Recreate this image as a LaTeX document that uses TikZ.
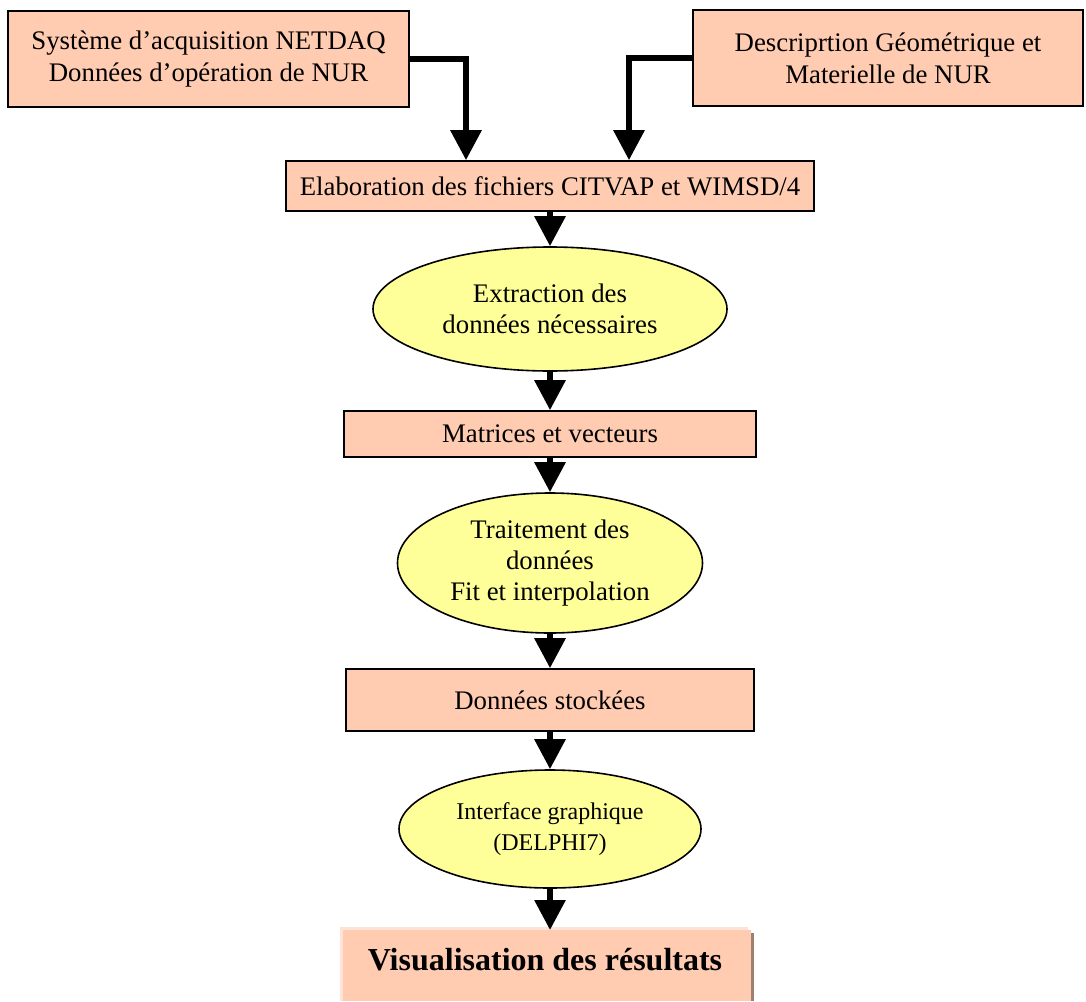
\documentclass[tikz,border=0pt]{standalone}
\usepackage{fontspec}
\setmainfont{Liberation Serif}
\usetikzlibrary{arrows.meta,shapes.geometric,backgrounds}
\definecolor{peach}{RGB}{255,204,178}
\definecolor{paleyellow}{RGB}{255,255,153}
\definecolor{peachedge}{RGB}{253,226,214}
\definecolor{shadowbrown}{RGB}{158,128,112}
\begin{document}
\begin{tikzpicture}[x=1pt,y=-1pt,
  box/.style={draw=black, line width=1.6pt, fill=peach, rectangle, inner sep=0pt,
              align=center, font=\fontsize{26.8}{32}\selectfont},
  oval/.style={draw=black, line width=1.6pt, fill=paleyellow, ellipse, inner sep=0pt,
               align=center, font=\fontsize{26.8}{31}\selectfont},
  flow/.style={line width=6pt, -{Triangle[width=30pt,length=30pt]}},
]
\useasboundingbox (0,0) rectangle (1086,1001);

% input sources
\node[box, minimum width=401pt, minimum height=96pt] (acq) at (208.5,59)
  {Système d’acquisition NETDAQ\\Données d’opération de NUR};
\node[box, minimum width=390pt, minimum height=96pt] (geo) at (888,58)
  {Descriprtion Géométrique et\\Materielle de NUR};

% processing chain
\node[box, minimum width=528pt, minimum height=50pt] (elab) at (550,186)
  {Elaboration des fichiers CITVAP et WIMSD/4};
\node[oval, minimum width=354pt, minimum height=124pt] (extr) at (550,309)
  {Extraction des\\données nécessaires};
\node[box, minimum width=412pt, minimum height=46pt] (mat) at (550,434)
  {Matrices et vecteurs};
\node[oval, minimum width=305pt, minimum height=140pt] (trait) at (550,563)
  {Traitement des\\données\\Fit et interpolation};
\node[box, minimum width=408pt, minimum height=62pt] (stock) at (550,700)
  {Données stockées};
\node[oval, minimum width=302pt, minimum height=118pt,
      font=\fontsize{24}{31}\selectfont] (gui) at (550,829)
  {Interface graphique\\(DELPHI7)};

% result box with soft edge and shadow
\node[fill=peach, inner sep=0pt, minimum width=408pt, minimum height=71pt,
      anchor=north west] (vis) at (343,930) {};
\node[anchor=base, font=\fontsize{32}{40}\selectfont\bfseries] (vislbl) at (545,970)
  {Visualisation des résultats};
\begin{scope}[on background layer]
  \fill[shadowbrown] ([shift={(0,3)}]vis.north east) rectangle ([shift={(3,0)}]vis.south east);
  \fill[peachedge] ([shift={(-3,-3)}]vis.north west) rectangle ([shift={(-3,0)}]vis.south east);
\end{scope}

% connectors
\draw[flow] (acq.east) -| ([xshift=-84pt]elab.north);
\draw[flow] (geo.west) -| ([xshift=79pt]elab.north);
\draw[flow] (elab.south) -- (elab.south |- extr.north);
\draw[flow] (extr.south) -- (extr.south |- mat.north);
\draw[flow] (mat.south) -- (mat.south |- trait.north);
\draw[flow] (trait.south) -- (trait.south |- stock.north);
\draw[flow] (stock.south) -- (stock.south |- gui.north);
\draw[flow] (gui.south) -- (gui.south |- vis.north);
\end{tikzpicture}
\end{document}
